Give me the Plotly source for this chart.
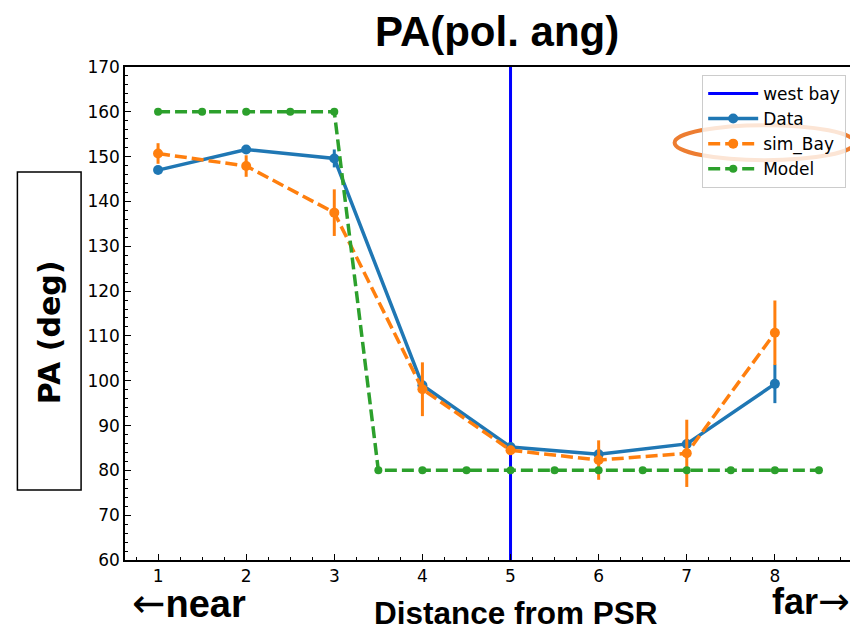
import plotly.graph_objects as go

# Data
x_data = [1, 2, 3, 4, 5, 6, 7, 8]
data_pa = [147.0, 151.6, 149.6, 99.0, 85.2, 83.6, 85.9, 99.3]
data_err = [0.6, 0.6, 2.0, 1.0, 0.8, 0.8, 0.8, 4.3]

sim_pa = [150.7, 147.9, 137.5, 98.1, 84.5, 82.3, 83.8, 110.7]
sim_err = [2.3, 2.4, 5.2, 6.0, 1.0, 4.4, 7.5, 7.2]

x_model = [1, 1.5, 2, 2.5, 3, 3.5, 4, 4.5, 5, 5.5, 6, 6.5, 7, 7.5, 8, 8.5]
model_pa = [160, 160, 160, 160, 160, 80, 80, 80, 80, 80, 80, 80, 80, 80, 80, 80]

west_bay_x = [5, 5]
west_bay_y = [60, 170]

y_ticks = [60, 70, 80, 90, 100, 110, 120, 130, 140, 150, 160, 170]
x_ticks = [1, 2, 3, 4, 5, 6, 7, 8]

BLUE = "#1f77b4"
ORANGE = "#ff7f0e"
GREEN = "#2ca02c"
DASH = "12px,5px"

fig = go.Figure()

fig.add_trace(go.Scatter(
    x=west_bay_x, y=west_bay_y, mode="lines", name="west bay",
    line=dict(color="#0000ff", width=3),
))
fig.add_trace(go.Scatter(
    x=x_data, y=data_pa, mode="lines+markers", name="Data",
    line=dict(color=BLUE, width=3.5),
    marker=dict(color=BLUE, size=10),
    error_y=dict(type="data", array=data_err, color=BLUE, thickness=3, width=0),
))
fig.add_trace(go.Scatter(
    x=x_data, y=sim_pa, mode="lines+markers", name="sim_Bay",
    line=dict(color=ORANGE, width=3.5, dash=DASH),
    marker=dict(color=ORANGE, size=10),
    error_y=dict(type="data", array=sim_err, color=ORANGE, thickness=3, width=0),
))
fig.add_trace(go.Scatter(
    x=x_model, y=model_pa, mode="lines+markers", name="Model",
    line=dict(color=GREEN, width=3.5, dash=DASH),
    marker=dict(color=GREEN, size=8),
    error_y=dict(type="data", array=[0] * len(x_model), color=GREEN, thickness=3, width=0),
))

axis_common = dict(
    showgrid=False, zeroline=False,
    showline=True, linecolor="black", linewidth=1.5, mirror=True,
    ticks="inside", ticklen=6, tickwidth=1.2, tickcolor="black",
    tickfont=dict(family="DejaVu Sans", size=17, color="black"),
)

fig.update_xaxes(
    range=[0.625, 8.875], tickvals=x_ticks,
    minor=dict(dtick=0.25, tick0=0, ticks="inside", ticklen=3, tickcolor="black"),
    **axis_common,
)
fig.update_yaxes(
    range=[60, 170], tickvals=y_ticks,
    minor=dict(dtick=2, tick0=0, ticks="inside", ticklen=3, tickcolor="black"),
    **axis_common,
)

annotations = [
    dict(text="<b>PA(pol. ang)</b>", xref="paper", yref="paper",
         x=0.512, y=1.072, xanchor="center", yanchor="middle", showarrow=False,
         font=dict(family="Liberation Sans", size=42, color="black")),
    dict(text="<b>Distance from PSR</b>", xref="paper", yref="paper",
         x=0.538, y=-0.108, xanchor="center", yanchor="middle", showarrow=False,
         font=dict(family="Liberation Sans", size=31.5, color="black")),
    dict(text="<span style='font-family:DejaVu Sans;font-size:40px'>←</span><b>near</b>",
         xref="paper", yref="paper",
         x=0.007, y=-0.088, xanchor="left", yanchor="middle", showarrow=False,
         font=dict(family="Liberation Sans", size=38, color="black")),
    dict(text="<b>far</b><span style='font-family:DejaVu Sans;font-size:38px'>→</span>",
         xref="paper", yref="paper",
         x=1.0, y=-0.084, xanchor="right", yanchor="middle", showarrow=False,
         font=dict(family="Liberation Sans", size=36, color="black")),
    dict(text="<b>PA (deg)</b>", xref="paper", yref="paper",
         x=-0.104, y=0.463, xanchor="center", yanchor="middle", showarrow=False,
         textangle=-90,
         font=dict(family="DejaVu Sans", size=30, color="black")),
]

shapes = [
    dict(type="rect", xref="paper", yref="paper",
         x0=-0.148, x1=-0.0604, y0=0.142, y1=0.787,
         line=dict(color="black", width=1.5), fillcolor="rgba(0,0,0,0)"),
    dict(type="circle", xref="paper", yref="paper",
         x0=0.756, x1=1.004, y0=0.811, y1=0.882,
         line=dict(color="#ED7D31", width=4), fillcolor="rgba(0,0,0,0)"),
]

fig.update_layout(
    width=850, height=620,
    margin=dict(l=117, r=4, t=59, b=68),
    paper_bgcolor="white", plot_bgcolor="white",
    showlegend=True,
    legend=dict(x=0.992, y=0.984, xanchor="right", yanchor="top",
                bgcolor="rgba(255,255,255,0.8)", bordercolor="#cccccc", borderwidth=1,
                font=dict(family="DejaVu Sans", size=17, color="black"),
                tracegroupgap=0, itemwidth=50),
    annotations=annotations,
    shapes=shapes,
)

fig.write_html("out.html")
